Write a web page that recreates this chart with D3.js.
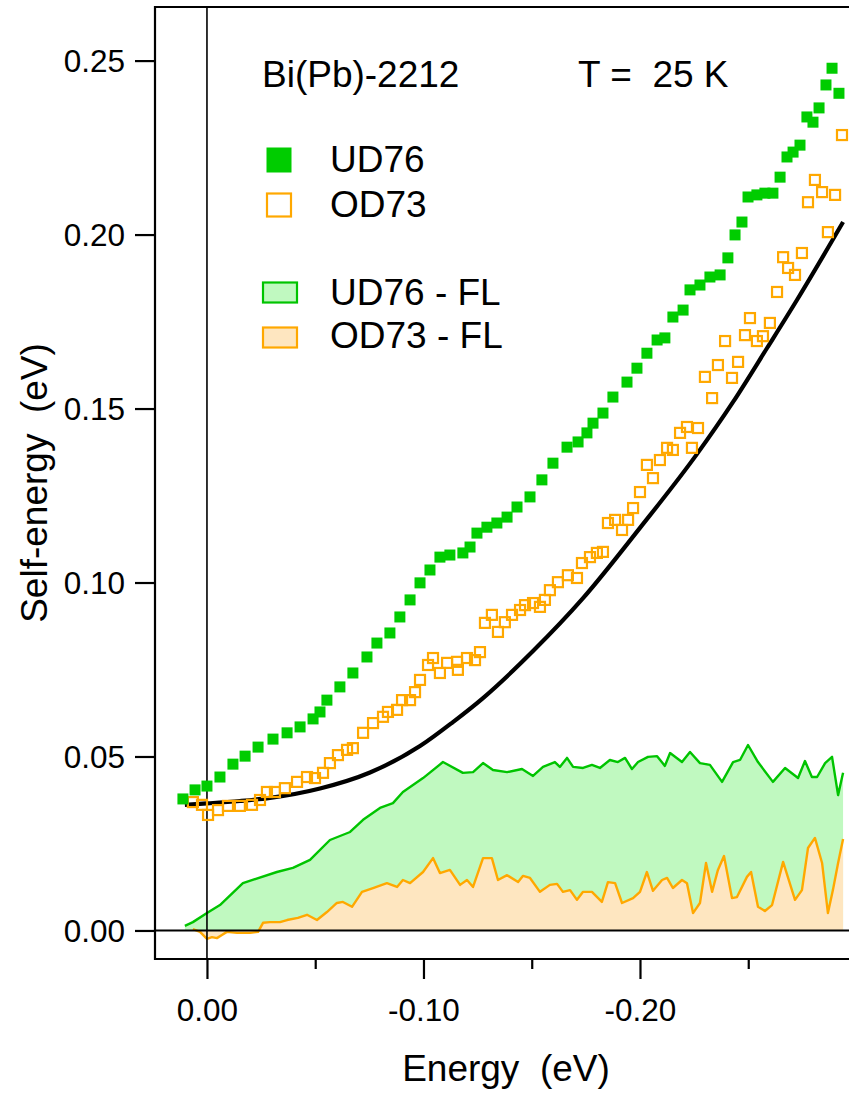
<!DOCTYPE html>
<html>
<head>
<meta charset="utf-8">
<script src="https://cdn.jsdelivr.net/npm/d3@7"></script>
<style>
  html, body { margin: 0; padding: 0; background: #fff; }
  svg { display: block; }
  text { font-family: "Liberation Sans", Arial, sans-serif; fill: #000; }
</style>
</head>
<body>
<svg id="chart" width="849" height="1095"></svg>
<script>
// ---- Data: self-energy (eV) vs binding energy (eV) ----

// UD76 sample, self-energy
const ud76E = [0.0111,0.0055,0.0000,-0.0060,-0.0120,-0.0176,-0.0236,-0.0305,-0.0370,-0.0430,-0.0490,-0.0522,-0.0554,-0.0614,-0.0674,-0.0739,-0.0785,-0.0845,-0.0891,-0.0938,-0.0984,-0.1030,-0.1076,-0.1122,-0.1182,-0.1215,-0.1247,-0.1293,-0.1339,-0.1386,-0.1432,-0.1492,-0.1547,-0.1598,-0.1663,-0.1714,-0.1755,-0.1783,-0.1829,-0.1875,-0.1940,-0.1986,-0.2032,-0.2079,-0.2115,-0.2152,-0.2199,-0.2231,-0.2277,-0.2323,-0.2370,-0.2406,-0.2439,-0.2471,-0.2499,-0.2540,-0.2577,-0.2614,-0.2647,-0.2679,-0.2707,-0.2739,-0.2771,-0.2799,-0.2827,-0.2859,-0.2887,-0.2919];
const ud76S = [0.0378,0.0404,0.0415,0.0441,0.0478,0.0501,0.0527,0.0550,0.0568,0.0585,0.0608,0.0628,0.0662,0.0700,0.0740,0.0786,0.0826,0.0855,0.0901,0.0950,0.0999,0.1036,0.1073,0.1079,0.1085,0.1102,0.1142,0.1159,0.1171,0.1188,0.1217,0.1246,0.1295,0.1343,0.1389,0.1404,0.1430,0.1458,0.1487,0.1533,0.1576,0.1616,0.1659,0.1697,0.1703,0.1763,0.1783,0.1841,0.1855,0.1878,0.1884,0.1933,0.1999,0.2036,0.2108,0.2114,0.2119,0.2119,0.2165,0.2223,0.2237,0.2257,0.2338,0.2323,0.2364,0.2430,0.2478,0.2406];

// OD73 sample, self-energy
const od73E = [0.0065,0.0023,-0.0005,-0.0051,-0.0097,-0.0152,-0.0208,-0.0245,-0.0277,-0.0314,-0.0360,-0.0416,-0.0462,-0.0499,-0.0536,-0.0568,-0.0605,-0.0647,-0.0674,-0.0721,-0.0767,-0.0813,-0.0836,-0.0878,-0.0901,-0.0938,-0.0961,-0.0984,-0.1021,-0.1044,-0.1076,-0.1109,-0.1155,-0.1159,-0.1201,-0.1238,-0.1261,-0.1284,-0.1316,-0.1344,-0.1376,-0.1409,-0.1446,-0.1469,-0.1506,-0.1538,-0.1561,-0.1584,-0.1621,-0.1667,-0.1709,-0.1732,-0.1769,-0.1801,-0.1829,-0.1852,-0.1885,-0.1917,-0.1945,-0.1968,-0.2000,-0.2032,-0.2060,-0.2092,-0.2125,-0.2152,-0.2185,-0.2217,-0.2240,-0.2268,-0.2300,-0.2333,-0.2360,-0.2393,-0.2425,-0.2453,-0.2485,-0.2508,-0.2540,-0.2568,-0.2600,-0.2633,-0.2661,-0.2684,-0.2716,-0.2748,-0.2776,-0.2808,-0.2841,-0.2868,-0.2901,-0.2933];
const od73S = [0.0369,0.0361,0.0332,0.0346,0.0358,0.0358,0.0361,0.0375,0.0398,0.0398,0.0409,0.0427,0.0441,0.0438,0.0453,0.0481,0.0504,0.0519,0.0524,0.0568,0.0596,0.0614,0.0628,0.0634,0.0662,0.0662,0.0685,0.0720,0.0763,0.0783,0.0740,0.0769,0.0772,0.0749,0.0783,0.0777,0.0800,0.0884,0.0907,0.0858,0.0886,0.0907,0.0921,0.0935,0.0941,0.0930,0.0950,0.0978,0.1001,0.1021,0.1013,0.1056,0.1073,0.1085,0.1088,0.1171,0.1180,0.1151,0.1180,0.1214,0.1260,0.1338,0.1300,0.1352,0.1387,0.1381,0.1430,0.1447,0.1387,0.1444,0.1591,0.1530,0.1625,0.1694,0.1588,0.1634,0.1711,0.1760,0.1694,0.1708,0.1746,0.1835,0.1935,0.1904,0.1884,0.1947,0.2093,0.2157,0.2122,0.2007,0.2114,0.2286];

// Fermi-liquid reference curve
const flE = [0.0102,0.0000,-0.0152,-0.0291,-0.0522,-0.0753,-0.0984,-0.1136,-0.1275,-0.1506,-0.1737,-0.2000,-0.2263,-0.2430,-0.2587,-0.2725,-0.2938];
const flS = [0.0361,0.0365,0.0372,0.0381,0.0408,0.0454,0.0530,0.0599,0.0668,0.0803,0.0955,0.1157,0.1369,0.1519,0.1674,0.1812,0.2036];

// UD76 minus FL
const udFlE = [0.0102,0.0065,0.0000,-0.0060,-0.0166,-0.0323,-0.0397,-0.0476,-0.0568,-0.0661,-0.0721,-0.0799,-0.0859,-0.0905,-0.0998,-0.1090,-0.1182,-0.1229,-0.1275,-0.1321,-0.1386,-0.1455,-0.1506,-0.1552,-0.1607,-0.1630,-0.1663,-0.1691,-0.1737,-0.1778,-0.1815,-0.1861,-0.1898,-0.1931,-0.1963,-0.1991,-0.2037,-0.2079,-0.2115,-0.2139,-0.2194,-0.2231,-0.2277,-0.2323,-0.2379,-0.2430,-0.2462,-0.2499,-0.2545,-0.2614,-0.2670,-0.2730,-0.2762,-0.2794,-0.2818,-0.2855,-0.2887,-0.2915,-0.2938];
const udFlS = [0.0013,0.0024,0.0050,0.0073,0.0136,0.0168,0.0180,0.0203,0.0260,0.0283,0.0318,0.0352,0.0366,0.0398,0.0438,0.0484,0.0453,0.0455,0.0481,0.0461,0.0455,0.0464,0.0444,0.0470,0.0484,0.0470,0.0496,0.0470,0.0467,0.0476,0.0467,0.0490,0.0484,0.0496,0.0464,0.0484,0.0499,0.0501,0.0473,0.0510,0.0484,0.0513,0.0481,0.0476,0.0427,0.0484,0.0490,0.0533,0.0484,0.0427,0.0467,0.0438,0.0487,0.0441,0.0441,0.0481,0.0499,0.0389,0.0453];

// OD73 minus FL
const odFlE = [0.0065,0.0032,0.0000,-0.0023,-0.0046,-0.0069,-0.0092,-0.0139,-0.0199,-0.0236,-0.0259,-0.0291,-0.0337,-0.0370,-0.0420,-0.0462,-0.0508,-0.0554,-0.0600,-0.0628,-0.0670,-0.0716,-0.0767,-0.0831,-0.0878,-0.0905,-0.0938,-0.0998,-0.1044,-0.1076,-0.1122,-0.1169,-0.1201,-0.1229,-0.1275,-0.1316,-0.1344,-0.1386,-0.1437,-0.1460,-0.1492,-0.1538,-0.1584,-0.1617,-0.1644,-0.1677,-0.1709,-0.1737,-0.1778,-0.1824,-0.1852,-0.1885,-0.1917,-0.1968,-0.2000,-0.2032,-0.2060,-0.2102,-0.2125,-0.2152,-0.2194,-0.2217,-0.2245,-0.2277,-0.2305,-0.2333,-0.2360,-0.2388,-0.2425,-0.2448,-0.2494,-0.2513,-0.2545,-0.2577,-0.2610,-0.2661,-0.2716,-0.2748,-0.2776,-0.2808,-0.2841,-0.2868,-0.2891,-0.2915,-0.2938];
const odFlS = [0.0004,-0.0004,-0.0024,-0.0019,-0.0022,-0.0013,-0.0004,-0.0007,-0.0007,-0.0004,0.0022,0.0024,0.0024,0.0030,0.0036,0.0045,0.0030,0.0053,0.0079,0.0082,0.0068,0.0111,0.0122,0.0136,0.0125,0.0145,0.0136,0.0168,0.0208,0.0165,0.0174,0.0131,0.0145,0.0125,0.0208,0.0208,0.0145,0.0159,0.0139,0.0157,0.0151,0.0111,0.0131,0.0134,0.0111,0.0116,0.0088,0.0111,0.0111,0.0082,0.0139,0.0136,0.0079,0.0093,0.0111,0.0168,0.0114,0.0145,0.0151,0.0122,0.0145,0.0136,0.0050,0.0079,0.0194,0.0111,0.0174,0.0214,0.0093,0.0096,0.0154,0.0168,0.0068,0.0056,0.0073,0.0197,0.0088,0.0116,0.0237,0.0266,0.0194,0.0050,0.0116,0.0194,0.0263];

// Axis ticks and labels
const yTicks = [0.00, 0.05, 0.10, 0.15, 0.20, 0.25];
const xMajorTicks = [0.00, -0.10, -0.20];
const xMinorTicks = [-0.05, -0.15, -0.25];
const xTitle = "Energy\u00a0\u00a0(eV)";
const yTitle = "Self-energy\u00a0\u00a0(eV)";
const sampleLabel = "Bi(Pb)-2212";
const tempLabel = "T =\u00a0\u00a025 K";
const legendNames = ["UD76", "OD73", "UD76 - FL", "OD73 - FL"];

// ---- Drawing ----
const GREEN = "#00cc00", GREEN_LINE = "#00c400", GREEN_FILL = "#c0f9c0";
const ORANGE = "#ffa800", ORANGE_FILL = "#fee6c0";

const svg = d3.select("#chart");
const plot = { left: 155, right: 856.5, top: 7, bottom: 959 };

const x = d3.scaleLinear().domain([0.024, -0.30]).range([plot.left, plot.right]);
const y = d3.scaleLinear().domain([-0.0082, 0.2654]).range([plot.bottom, plot.top]);

const zip = (a, b) => a.map((v, i) => [v, b[i]]);

svg.append("defs").append("clipPath").attr("id", "plotclip")
  .append("rect").attr("x", plot.left).attr("y", plot.top)
  .attr("width", plot.right - plot.left).attr("height", plot.bottom - plot.top);

const g = svg.append("g").attr("clip-path", "url(#plotclip)");

// difference areas
const area = d3.area().x(d => x(d[0])).y0(y(0)).y1(d => y(d[1]));
const line = d3.line().x(d => x(d[0])).y(d => y(d[1]));

g.append("path").datum(zip(udFlE, udFlS)).attr("d", area).attr("fill", GREEN_FILL);
g.append("path").datum(zip(udFlE, udFlS)).attr("d", line)
  .attr("fill", "none").attr("stroke", GREEN_LINE).attr("stroke-width", 2.4).attr("stroke-linejoin", "round");
g.append("path").datum(zip(odFlE, odFlS)).attr("d", area).attr("fill", ORANGE_FILL);
g.append("path").datum(zip(odFlE, odFlS)).attr("d", line)
  .attr("fill", "none").attr("stroke", ORANGE).attr("stroke-width", 2.4).attr("stroke-linejoin", "round");

// zero lines
g.append("line").attr("x1", plot.left).attr("x2", plot.right).attr("y1", y(0)).attr("y2", y(0))
  .attr("stroke", "#000").attr("stroke-width", 2);
g.append("line").attr("x1", x(0)).attr("x2", x(0)).attr("y1", plot.top).attr("y2", plot.bottom)
  .attr("stroke", "#000").attr("stroke-width", 1.6);

// Fermi-liquid curve
g.append("path").datum(zip(flE, flS))
  .attr("d", d3.line().x(d => x(d[0])).y(d => y(d[1])).curve(d3.curveMonotoneX))
  .attr("fill", "none").attr("stroke", "#000").attr("stroke-width", 4.2);

// OD73 hollow squares
g.append("g").selectAll("rect").data(zip(od73E, od73S)).join("rect")
  .attr("x", d => x(d[0]) - 5).attr("y", d => y(d[1]) - 5)
  .attr("width", 10).attr("height", 10)
  .attr("fill", "none").attr("stroke", ORANGE).attr("stroke-width", 2.2);

// UD76 filled squares
g.append("g").selectAll("rect").data(zip(ud76E, ud76S)).join("rect")
  .attr("x", d => x(d[0]) - 5.5).attr("y", d => y(d[1]) - 5.5)
  .attr("width", 11).attr("height", 11)
  .attr("fill", GREEN);

// frame
svg.append("path")
  .attr("d", `M${plot.right},${plot.top}H${plot.left}V${plot.bottom}H${plot.right}`)
  .attr("fill", "none").attr("stroke", "#000").attr("stroke-width", 2.2);

// y axis
const yAxis = d3.axisLeft(y).tickValues(yTicks).tickSize(20).tickPadding(10)
  .tickFormat(d => d.toFixed(2));
const ya = svg.append("g").attr("transform", `translate(${plot.left},0)`).call(yAxis);
ya.select(".domain").remove();
ya.selectAll(".tick line").attr("stroke", "#000").attr("stroke-width", 2.2);
ya.selectAll(".tick text").attr("font-size", 31.5).attr("font-family", "Liberation Sans, Arial, sans-serif")
  .attr("fill", "#000").attr("dy", "0.36em");

// x axis
const xAxis = d3.axisBottom(x).tickValues(xMajorTicks).tickSize(20).tickPadding(20)
  .tickFormat(d => d.toFixed(2));
const xa = svg.append("g").attr("transform", `translate(0,${plot.bottom})`).call(xAxis);
xa.select(".domain").remove();
xa.selectAll(".tick line").attr("stroke", "#000").attr("stroke-width", 2.2);
xa.selectAll(".tick text").attr("font-size", 31.5).attr("font-family", "Liberation Sans, Arial, sans-serif")
  .attr("fill", "#000");
const xMinor = d3.axisBottom(x).tickValues(xMinorTicks).tickSize(10).tickFormat("");
const xm = svg.append("g").attr("transform", `translate(0,${plot.bottom})`).call(xMinor);
xm.select(".domain").remove();
xm.selectAll(".tick line").attr("stroke", "#000").attr("stroke-width", 2.2);

// axis titles
svg.append("text").attr("x", 506).attr("y", 1081).attr("text-anchor", "middle")
  .attr("font-size", 37).text(xTitle);
svg.append("text").attr("transform", "translate(47,483) rotate(-90)").attr("text-anchor", "middle")
  .attr("font-size", 37).text(yTitle);

// annotations
svg.append("text").attr("x", 262).attr("y", 87).attr("font-size", 37).text(sampleLabel);
svg.append("text").attr("x", 578).attr("y", 87).attr("font-size", 37).text(tempLabel);

// legend
const lg = svg.append("g");
lg.append("rect").attr("x", 266.5).attr("y", 147.5).attr("width", 25).attr("height", 25).attr("fill", GREEN);
lg.append("rect").attr("x", 267).attr("y", 193.5).attr("width", 24).attr("height", 23)
  .attr("fill", "none").attr("stroke", ORANGE).attr("stroke-width", 2.2);
lg.append("rect").attr("x", 263).attr("y", 282.5).attr("width", 34).attr("height", 20)
  .attr("fill", GREEN_FILL).attr("stroke", GREEN_LINE).attr("stroke-width", 2.2);
lg.append("rect").attr("x", 263).attr("y", 327.5).attr("width", 34).attr("height", 20)
  .attr("fill", ORANGE_FILL).attr("stroke", ORANGE).attr("stroke-width", 2.2);
const legendBaselines = [172, 217, 305, 348];
legendNames.forEach((name, i) => {
  lg.append("text").attr("x", 330).attr("y", legendBaselines[i]).attr("font-size", 37).text(name);
});
</script>
</body>
</html>
